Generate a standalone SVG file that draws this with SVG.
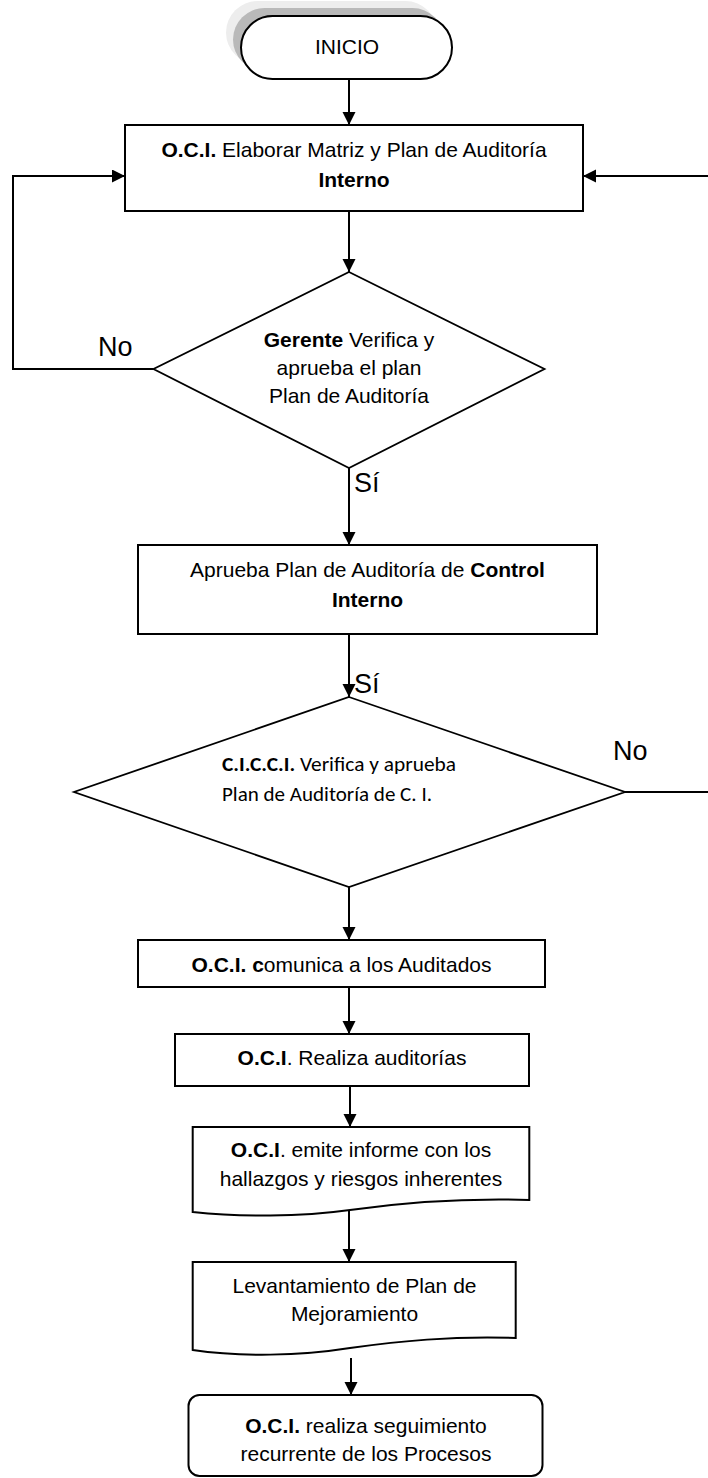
<svg xmlns="http://www.w3.org/2000/svg" width="708" height="1478" viewBox="0 0 708 1478">
<style>
.t{font-family:"Liberation Sans",Arial,sans-serif;font-size:21px;fill:#000}
.c{font-family:Carlito,Lato,"Noto Sans",sans-serif;font-size:20px;fill:#000}
.lbl{font-family:"Liberation Sans",Arial,sans-serif;font-size:27px;fill:#000}
.b{font-weight:bold}
.shape{fill:#fff;stroke:#000;stroke-width:2}
.dia{fill:#fff;stroke:#000;stroke-width:1.8}
.conn{fill:none;stroke:#000;stroke-width:2}
</style>
<defs>
<marker id="ah" markerUnits="userSpaceOnUse" markerWidth="14" markerHeight="14" refX="13" refY="6.5" orient="auto">
<path d="M0,0 L13,6.5 L0,13 Z" fill="#000"/>
</marker>
</defs>
<rect width="708" height="1478" fill="#fff"/>

<g id="connectors">
<line class="conn" x1="349" y1="79" x2="349" y2="125" marker-end="url(#ah)"/>
<line class="conn" x1="349" y1="211" x2="349" y2="272" marker-end="url(#ah)"/>
<polyline class="conn" points="153.5,369 13,369 13,176 125,176" marker-end="url(#ah)"/>
<line class="conn" x1="708" y1="176" x2="583" y2="176" stroke-width="1.6" marker-end="url(#ah)"/>
<line class="conn" x1="349" y1="468" x2="349" y2="545" marker-end="url(#ah)"/>
<line class="conn" x1="349" y1="634" x2="349" y2="697" marker-end="url(#ah)"/>
<line class="conn" x1="625" y1="792" x2="708" y2="792" stroke-width="1.3"/>
<line class="conn" x1="349" y1="887" x2="349" y2="940" marker-end="url(#ah)"/>
<line class="conn" x1="349" y1="987" x2="349" y2="1034" marker-end="url(#ah)"/>
<line class="conn" x1="350" y1="1086" x2="350" y2="1127" marker-end="url(#ah)"/>
<line class="conn" x1="349" y1="1211" x2="349" y2="1262" marker-end="url(#ah)"/>
<line class="conn" x1="351" y1="1358" x2="351" y2="1395" marker-end="url(#ah)"/>
<text class="lbl" x="98" y="356">No</text>
<text class="lbl" x="354" y="492">Sí</text>
<text class="lbl" x="354" y="693">Sí</text>
<text class="lbl" x="613" y="760">No</text>
</g>

<g id="inicio">
<rect x="226" y="1" width="211" height="63" rx="31.5" fill="#ededed"/>
<rect x="233" y="8" width="211" height="63" rx="31.5" fill="#b9b9b9"/>
<rect class="shape" x="241" y="16" width="211" height="63" rx="31.5"/>
<text class="t" x="347" y="54" text-anchor="middle">INICIO</text>
</g>

<g id="elaborar">
<rect class="shape" x="125" y="125" width="458" height="86"/>
<text class="t" x="354" y="157" text-anchor="middle"><tspan class="b">O.C.I.</tspan> Elaborar Matriz y Plan de Auditoría</text>
<text class="t b" x="354" y="187" text-anchor="middle">Interno</text>
</g>

<g id="gerente">
<polygon class="dia" points="349,272 544.5,369 349,468 153.5,369"/>
<text class="t" x="349" y="347" text-anchor="middle"><tspan class="b">Gerente</tspan> Verifica y</text>
<text class="t" x="349" y="375" text-anchor="middle">aprueba el plan</text>
<text class="t" x="349" y="403" text-anchor="middle">Plan de Auditoría</text>
</g>

<g id="aprueba">
<rect class="shape" x="138" y="545" width="459" height="89"/>
<text class="t" x="367.5" y="577" text-anchor="middle">Aprueba Plan de Auditoría de <tspan class="b">Control</tspan></text>
<text class="t b" x="367.5" y="607" text-anchor="middle">Interno</text>
</g>

<g id="cicci">
<polygon class="dia" points="349,697 625,792 349,887 74,792"/>
<text class="c" x="222" y="771" textLength="234" lengthAdjust="spacingAndGlyphs"><tspan class="b">C.I.C.C.I.</tspan> Verifica y aprueba</text>
<text class="c" x="222" y="801" textLength="210" lengthAdjust="spacingAndGlyphs">Plan de Auditoría de C. I.</text>
</g>

<g id="comunica">
<rect class="shape" x="138" y="940" width="407" height="47"/>
<text class="t" x="341.5" y="972" text-anchor="middle"><tspan class="b">O.C.I. c</tspan>omunica a los Auditados</text>
</g>

<g id="realiza">
<rect class="shape" x="175" y="1034" width="354" height="52"/>
<text class="t" x="352" y="1065" text-anchor="middle"><tspan class="b">O.C.I</tspan>. Realiza auditorías</text>
</g>

<g id="informe">
<path class="shape" d="M192.7,1127 H529.3 V1200 C460,1198 400,1203 350,1210 C300,1217 240,1217 192.7,1212 Z"/>
<text class="t" x="361" y="1157" text-anchor="middle"><tspan class="b">O.C.I</tspan>. emite informe con los</text>
<text class="t" x="361" y="1186" text-anchor="middle">hallazgos y riesgos inherentes</text>
</g>

<g id="levantamiento">
<path class="shape" d="M192.7,1262 H515.7 V1338 C450,1336 400,1341 350,1348 C300,1356 240,1357 192.7,1350 Z"/>
<text class="t" x="354.5" y="1293" text-anchor="middle">Levantamiento de Plan de</text>
<text class="t" x="354.5" y="1321" text-anchor="middle">Mejoramiento</text>
</g>

<g id="seguimiento">
<rect class="shape" x="188.5" y="1395" width="354" height="81" rx="11"/>
<text class="t" x="366" y="1433" text-anchor="middle"><tspan class="b">O.C.I.</tspan> realiza seguimiento</text>
<text class="t" x="366" y="1461" text-anchor="middle">recurrente de los Procesos</text>
</g>
</svg>
